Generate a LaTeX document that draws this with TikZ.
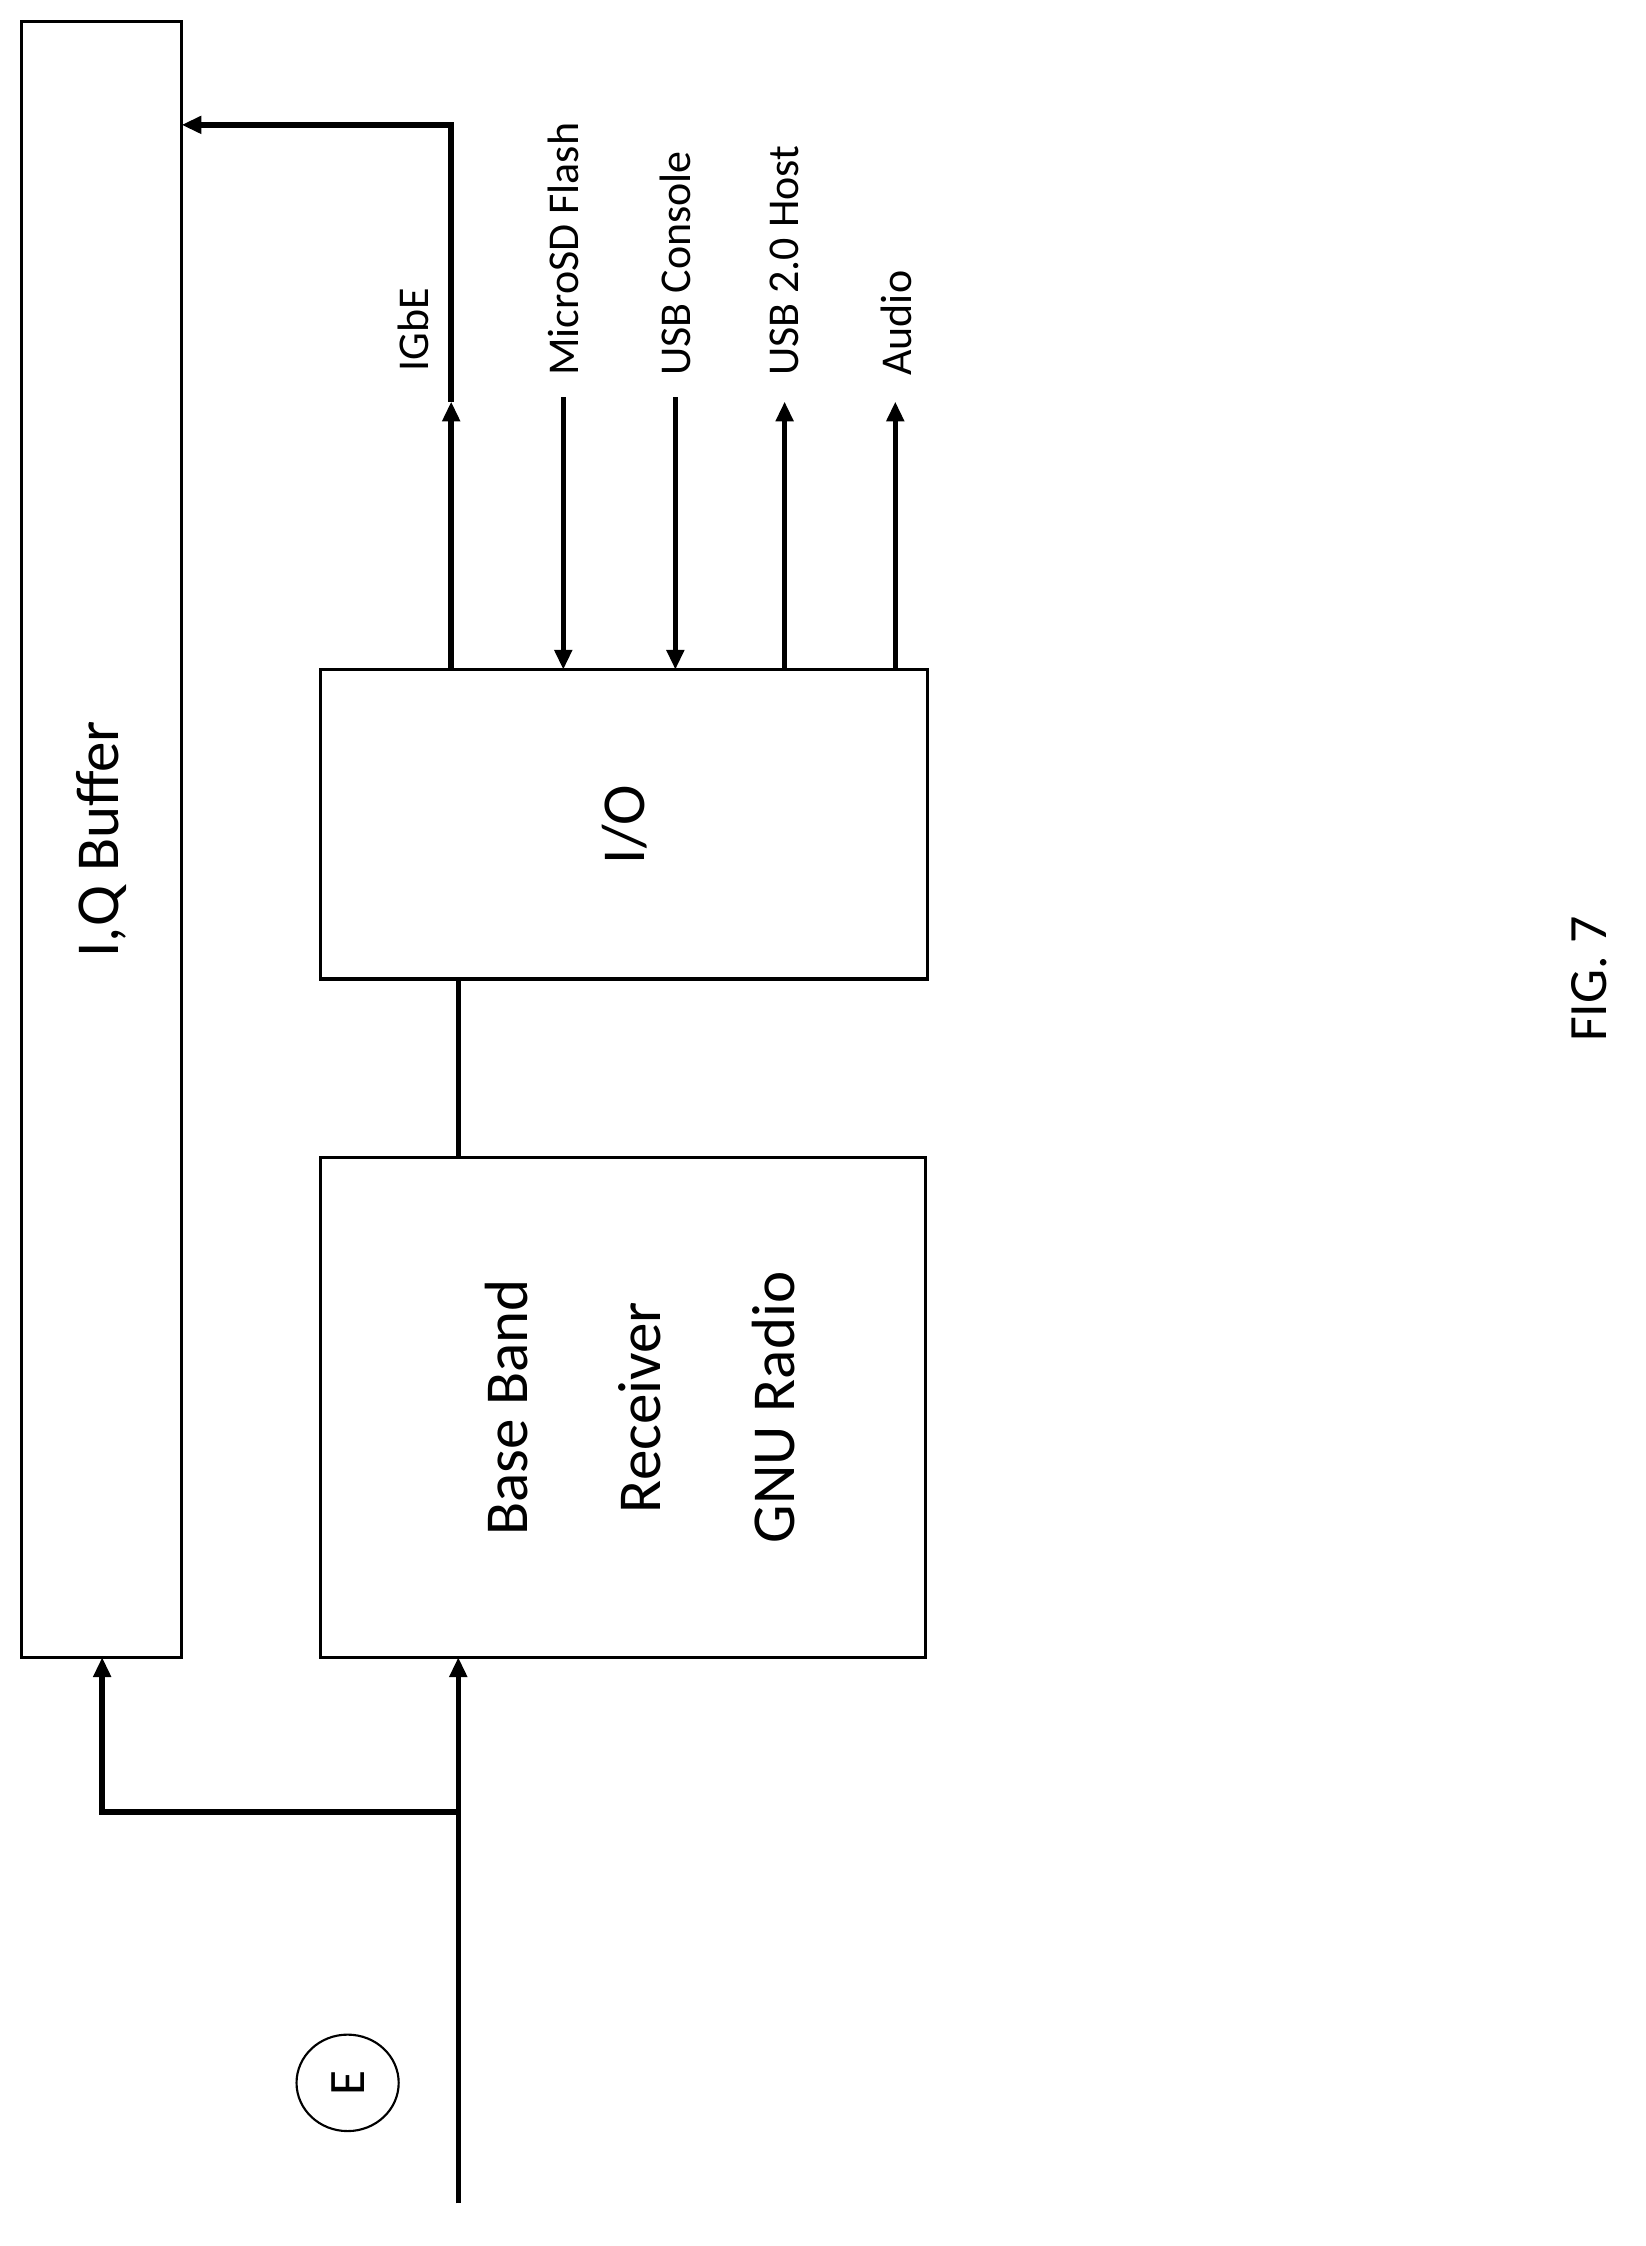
\documentclass[tikz,border=0pt]{standalone}
\usepackage{fontspec}
\setmainfont{Carlito}
\usetikzlibrary{arrows.meta,shapes.geometric}
\begin{document}
\begin{tikzpicture}[x=1pt,y=-1pt,
  box/.style={draw,line width=2.2pt,inner sep=0},
  wire/.style={line width=3.8pt},
  arr/.style={wire,-{Triangle[length=14pt,width=12pt]}},
  lbl/.style={rotate=90,anchor=west,font=\fontsize{31}{36}\selectfont,inner sep=0},
  big/.style={rotate=90,font=\fontsize{43}{48}\selectfont}]
\useasboundingbox (0,0) rectangle (1160,1583);
\node[box,minimum width=113pt,minimum height=1153pt] (buf) at (71.5,591.5) {};
\node[big] at (buf.center) {I,Q Buffer};
\node[box,minimum width=428pt,minimum height=218pt] (io) at (440,581) {};
\node[big] at (io.center) {I/O};
\node[box,minimum width=426pt,minimum height=352pt] (bb) at (439,992) {};
\node[big,align=center,font=\fontsize{43}{94}\selectfont] at (451,992) {Base Band\\Receiver\\GNU Radio};
\coordinate (ig0) at (318,472);
\coordinate (ig1) at (318,283);
\draw[arr] (ig0) -- (ig1);
\draw[arr] (ig1) -- (318,88) -- (128,88);
\coordinate (ms) at (397,280); \coordinate (uc) at (476,280);
\coordinate (uh) at (553,283); \coordinate (au) at (631,283);
\draw[arr] (ms) -- (397,472);
\draw[arr] (uc) -- (476,472);
\draw[arr] (553,472) -- (uh);
\draw[arr] (631,472) -- (au);
\node[lbl] at (291,262) {IGbE};
\node[lbl] at (397,265) {MicroSD Flash};
\node[lbl] at (476,265) {USB Console};
\node[lbl] at (553,265) {USB 2.0 Host};
\node[lbl] at (632,265) {Audio};
\draw[wire] (io.south -| 323,0) -- (bb.north -| 323,0);
\coordinate (in) at (323,1553);
\coordinate (br) at (323,1277);
\draw[arr] (in) -- (323,1168);
\draw[arr] (br) -- (72,1277) -- (72,1168);
\node[draw,line width=1.5pt,ellipse,minimum width=68pt,minimum height=72pt,inner sep=0,rotate=90,font=\fontsize{36}{40}\selectfont] (e) at (245,1468) {E};
\node[big,font=\fontsize{38}{44}\selectfont] (fig) at (1120,690) {FIG. 7};
\end{tikzpicture}
\end{document}
